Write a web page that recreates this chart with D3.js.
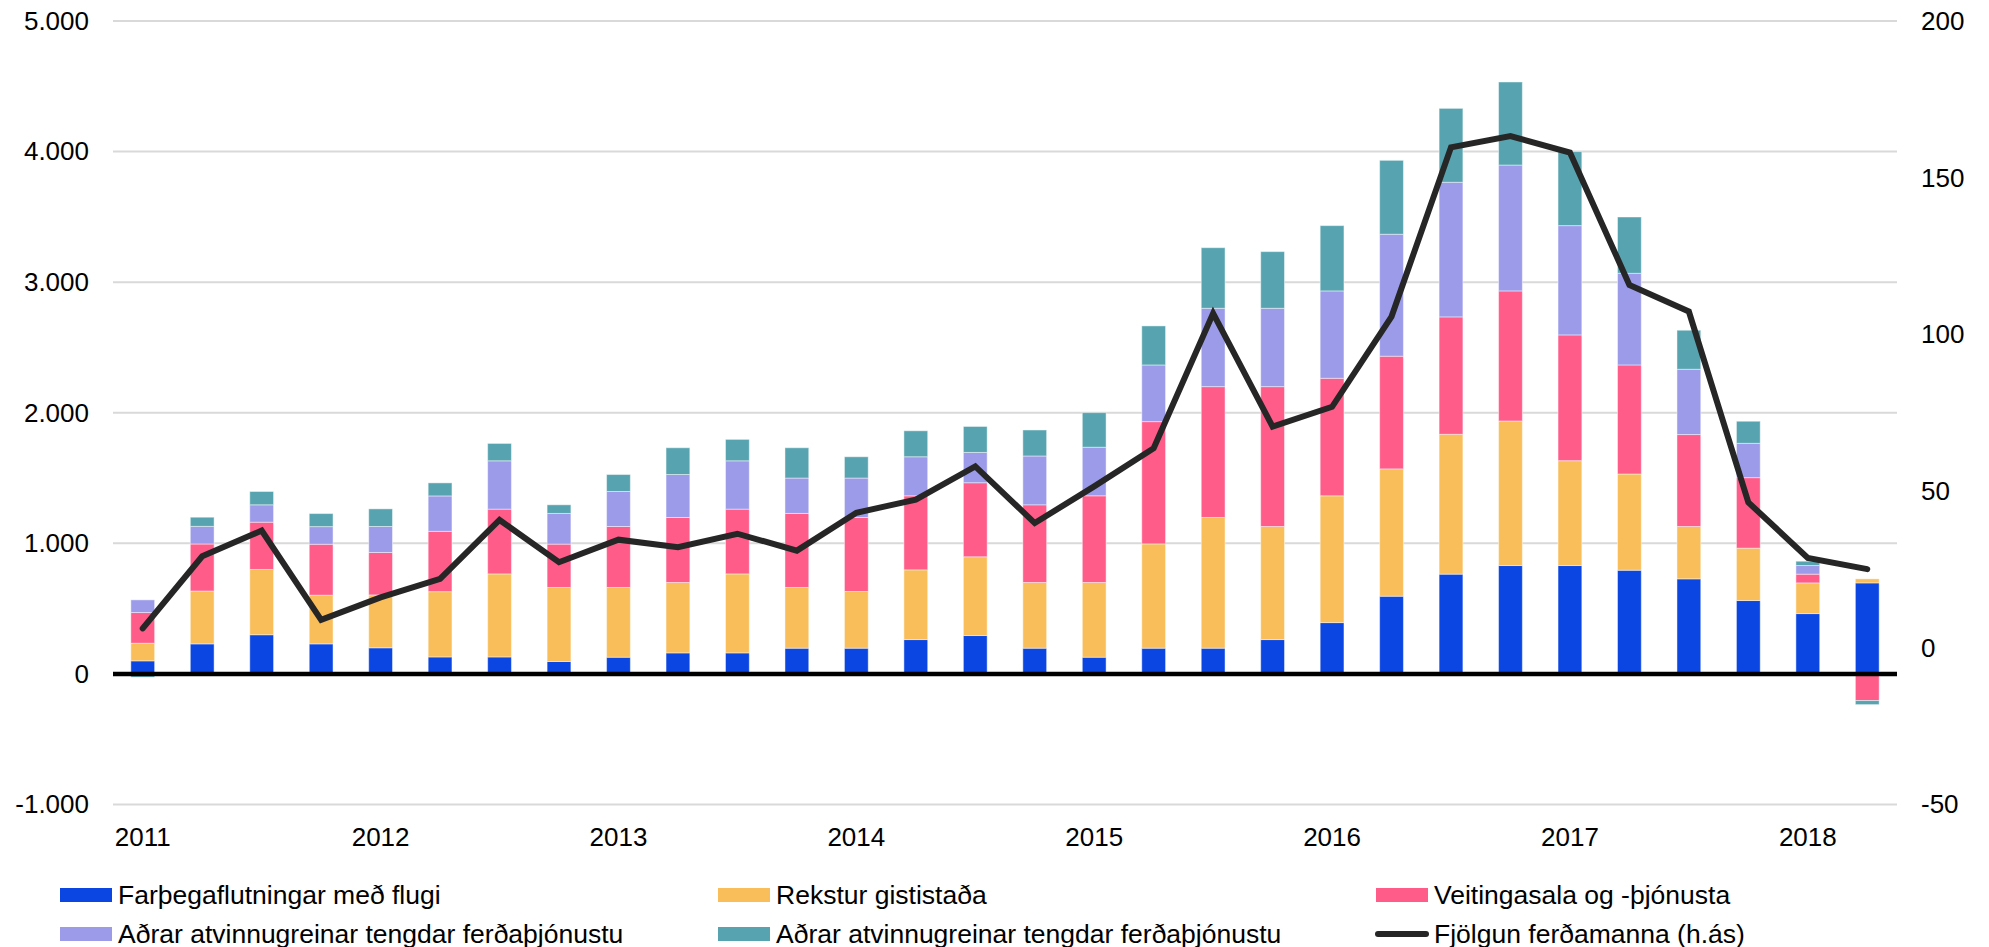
<!DOCTYPE html>
<html>
<head>
<meta charset="utf-8">
<script src="https://cdn.jsdelivr.net/npm/d3@7"></script>
<style>
  body { margin: 0; background: #fff; }
  svg text { font-family: "Liberation Sans", Arial, sans-serif; fill: #000; }
</style>
</head>
<body>
<svg id="chart" width="1989" height="947"></svg>
<script>
// quarters 2011Q1 - 2018Q2
var quarters = ["2011Q1","2011Q2","2011Q3","2011Q4","2012Q1","2012Q2","2012Q3","2012Q4",
  "2013Q1","2013Q2","2013Q3","2013Q4","2014Q1","2014Q2","2014Q3","2014Q4",
  "2015Q1","2015Q2","2015Q3","2015Q4","2016Q1","2016Q2","2016Q3","2016Q4",
  "2017Q1","2017Q2","2017Q3","2017Q4","2018Q1","2018Q2"];

var flug     = [100,230,300,230,200,130,130,95,128,161,161,197,197,263,294,197,128,197,197,263,393,595,764,830,830,794,728,562,462,697];
var gisting  = [135,405,500,373,405,500,636,567,534,539,605,465,434,534,603,503,572,799,1001,866,971,975,1071,1107,803,737,401,401,235,31];
var veitingar= [235,360,362,390,325,462,496,332,467,498,496,567,567,567,567,595,664,936,1002,1071,900,863,899,996,963,835,704,540,67,-204];
var adrar1   = [97,135,133,135,199,271,370,235,268,329,370,271,302,299,232,374,372,434,600,600,669,934,1031,964,837,702,500,263,66,0];
var adrar2   = [-25,70,102,100,135,100,133,66,130,205,164,232,163,199,199,199,265,299,464,434,500,566,566,636,567,431,299,169,33,-31];
// right axis
var fjolgun  = [6.2,29.2,37.4,8.9,16.1,22,40.8,27.3,34.5,32.1,36.4,31,43.1,47.3,57.9,39.8,51.5,63.7,106.7,70.6,76.9,105.7,159.7,163.3,158,115.8,107.3,46.4,28.7,25.1];

var seriesNames = ["Farþegaflutningar með flugi","Rekstur gististaða","Veitingasala og -þjónusta",
  "Aðrar atvinnugreinar tengdar ferðaþjónustu","Aðrar atvinnugreinar tengdar ferðaþjónustu"];
var lineName = "Fjölgun ferðamanna (h.ás)";
var colors = ["#0b46e2","#f9be5a","#ff5c8a","#9b9bea","#57a4b0"];

var leftTicks = [-1000,0,1000,2000,3000,4000,5000];
var rightTicks = [-50,0,50,100,150,200];

var svg = d3.select("#chart");

var plotLeft = 113, plotRight = 1897, plotTop = 21, plotBottom = 804.5;

var x = d3.scaleBand().domain(quarters).range([plotLeft, plotRight])
    .paddingInner(0.6).paddingOuter(0.3);
var y = d3.scaleLinear().domain([-1000, 5000]).range([plotBottom, plotTop]);
var y2 = d3.scaleLinear().domain([-50, 200]).range([plotBottom, plotTop]);

// icelandic number format, plain hyphen for minus
var is = d3.formatLocale({decimal: ",", thousands: ".", grouping: [3], currency: ["", ""], minus: "-"});
var fmt = is.format(",");

// gridlines
svg.append("g").selectAll("line")
    .data(leftTicks)
    .enter().append("line")
    .attr("x1", plotLeft).attr("x2", plotRight)
    .attr("y1", function(d) { return y(d); })
    .attr("y2", function(d) { return y(d); })
    .attr("stroke", "#d9d9d9")
    .attr("stroke-width", 2);

// axes
svg.append("g")
    .attr("transform", "translate(" + plotLeft + ",0)")
    .call(d3.axisLeft(y).tickValues(leftTicks).tickFormat(fmt).tickSize(0).tickPadding(24));
svg.append("g")
    .attr("transform", "translate(" + plotRight + ",0)")
    .call(d3.axisRight(y2).tickValues(rightTicks).tickFormat(fmt).tickSize(0).tickPadding(24));
svg.selectAll(".domain").remove();
svg.selectAll(".tick text").style("font-size", "26px").style("font-family", "Liberation Sans, Arial, sans-serif");

// stacked bars
var table = quarters.map(function(q, i) {
    return {q: q, s0: flug[i], s1: gisting[i], s2: veitingar[i], s3: adrar1[i], s4: adrar2[i]};
});
var keys = ["s0","s1","s2","s3","s4"];
var stacked = d3.stack().keys(keys).offset(d3.stackOffsetDiverging)(table);

svg.append("g").selectAll("g")
    .data(stacked)
    .enter().append("g")
    .attr("fill", function(d, i) { return colors[i]; })
    .selectAll("rect")
    .data(function(d) { return d; })
    .enter().append("rect")
    .attr("x", function(d) { return x(d.data.q); })
    .attr("width", x.bandwidth())
    .attr("y", function(d) { return y(Math.max(d[0], d[1])); })
    .attr("height", function(d) { return Math.abs(y(d[0]) - y(d[1])); })
    .attr("stroke", "rgba(255,255,255,0.45)")
    .attr("stroke-width", 1);

// zero line
svg.append("line")
    .attr("x1", plotLeft).attr("x2", plotRight)
    .attr("y1", y(0)).attr("y2", y(0))
    .attr("stroke", "#000")
    .attr("stroke-width", 4.5);

// line on right axis
var line = d3.line()
    .x(function(d, i) { return x(quarters[i]) + x.bandwidth() / 2; })
    .y(function(d) { return y2(d); });

svg.append("path")
    .datum(fjolgun)
    .attr("d", line)
    .attr("fill", "none")
    .attr("stroke", "#262626")
    .attr("stroke-width", 6)
    .attr("stroke-linecap", "round");

// year labels under Q1 bars
svg.append("g").selectAll("text")
    .data(quarters.filter(function(q) { return q.slice(4) == "Q1"; }))
    .enter().append("text")
    .attr("x", function(d) { return x(d) + x.bandwidth() / 2; })
    .attr("y", 846)
    .attr("text-anchor", "middle")
    .style("font-size", "26px")
    .text(function(d) { return d.slice(0, 4); });

// legend
var legendItems = seriesNames.map(function(n, i) { return {name: n, color: colors[i], type: "bar"}; });
legendItems.push({name: lineName, color: "#262626", type: "line"});
var colX = [60, 718, 1376], rowY = [895, 934];

var leg = svg.append("g").selectAll("g")
    .data(legendItems)
    .enter().append("g")
    .attr("transform", function(d, i) {
        return "translate(" + colX[i % 3] + "," + rowY[Math.floor(i / 3)] + ")";
    });

leg.filter(function(d) { return d.type == "bar"; })
    .append("rect")
    .attr("x", 0).attr("y", -7)
    .attr("width", 52).attr("height", 14)
    .attr("fill", function(d) { return d.color; });

leg.filter(function(d) { return d.type == "line"; })
    .append("line")
    .attr("x1", 2).attr("x2", 50).attr("y1", 0).attr("y2", 0)
    .attr("stroke", function(d) { return d.color; })
    .attr("stroke-width", 6)
    .attr("stroke-linecap", "round");

leg.append("text")
    .attr("x", 58)
    .attr("y", 9)
    .style("font-size", "26.5px")
    .text(function(d) { return d.name; });
</script>
</body>
</html>
